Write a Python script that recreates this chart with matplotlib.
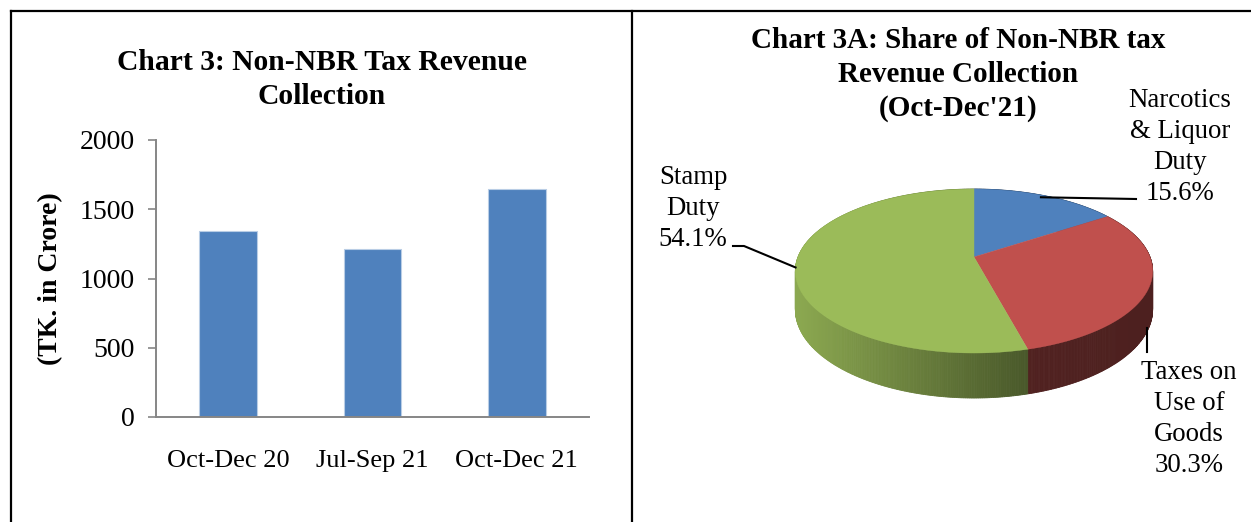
import numpy as np
import matplotlib
matplotlib.use("Agg")
import matplotlib.pyplot as plt
from matplotlib.patches import Polygon
from matplotlib.lines import Line2D

plt.rcParams['font.family'] = ['Liberation Serif', 'DejaVu Serif']

# ---------------- data ----------------
bar_categories = ["Oct-Dec 20", "Jul-Sep 21", "Oct-Dec 21"]
bar_values = [1342, 1210, 1647]
y_ticks = [0, 500, 1000, 1500, 2000]

pie_labels = ["Narcotics\n& Liquor\nDuty", "Taxes on\nUse of\nGoods", "Stamp\nDuty"]
pie_shares = [15.6, 30.3, 54.1]
pie_colors = ["#4F81BD", "#C0504D", "#9BBB59"]

bar_title = ["Chart 3: Non-NBR Tax Revenue", "Collection"]
pie_title = ["Chart 3A: Share of Non-NBR tax", "Revenue Collection", "(Oct-Dec'21)"]

W, H = 1251, 522
fig = plt.figure(figsize=(W / 100, H / 100), dpi=100)

# ---------------- bar chart ----------------
ax_l, ax_r, ax_t, ax_b = 156, 589, 140, 417
ax = fig.add_axes([ax_l / W, 1 - ax_b / H, (ax_r - ax_l) / W, (ax_b - ax_t) / H])
x = np.arange(len(bar_categories))
ax.bar(x, bar_values, width=0.40, color="#4F81BD", edgecolor="#B9CDE5", linewidth=0.8, zorder=2)
ax.set_xlim(-0.5, len(bar_categories) - 0.5)
ax.set_ylim(0, 2000)
ax.set_yticks(y_ticks)
ax.set_yticklabels([str(v) for v in y_ticks], fontsize=20)
ax.set_xticks(x)
ax.set_xticklabels(bar_categories, fontsize=19)
for s in ["top", "right"]:
    ax.spines[s].set_visible(False)
for s in ["left", "bottom"]:
    ax.spines[s].set_color("#868686")
    ax.spines[s].set_linewidth(1.4)
ax.tick_params(axis="y", direction="out", length=5.5, width=1.2, color="#868686", pad=10)
ax.tick_params(axis="x", length=0, pad=24)
ax.set_ylabel("(TK. in Crore)", fontsize=20, fontweight="bold")
ax.yaxis.set_label_coords(-0.214, 0.5)

# ---------------- overlay (pixel coordinates) ----------------
ov = fig.add_axes([0, 0, 1, 1])
ov.set_xlim(0, W)
ov.set_ylim(H, 0)
ov.axis("off")
ov.patch.set_alpha(0)

# borders
lw = 1.6
ov.add_line(Line2D([11, 11], [11, H], color="black", lw=lw))
ov.add_line(Line2D([11, W], [11, 11], color="black", lw=lw))
ov.add_line(Line2D([632, 632], [11, H], color="black", lw=lw))

# titles (one text per line)
for k, line in enumerate(bar_title):
    ov.text(322, 62 + 35 * k, line, ha="center", va="center", fontsize=21.3, fontweight="bold")
for k, line in enumerate(pie_title):
    ov.text(958, 40 + 34 * k, line, ha="center", va="center", fontsize=21, fontweight="bold")

# ---------------- 3D pie ----------------
cx, cy = 974, 257
B, A, p, D = 176, 79.6, 0.171, 37.3


def proj(u, v, z=0.0):
    s = 1.0 / (1.0 + p * v)
    return cx + B * u * s, cy - A * v * s + z * D * s


def rgb(hexc):
    hexc = hexc.lstrip("#")
    return np.array([int(hexc[i:i + 2], 16) for i in (0, 2, 4)]) / 255.0


angles = []
start = 90.0
for sh in pie_shares:
    end = start - 360.0 * sh / 100.0
    angles.append((start, end))
    start = end

# side strips
strips = []
for i, (a0, a1) in enumerate(angles):
    ts = np.radians(np.linspace(a0, a1, int(abs(a1 - a0)) * 2 + 2))
    for t1, t2 in zip(ts[:-1], ts[1:]):
        pts = [proj(np.cos(t1), np.sin(t1), 0), proj(np.cos(t2), np.sin(t2), 0),
               proj(np.cos(t2), np.sin(t2), 1), proj(np.cos(t1), np.sin(t1), 1)]
        vmid = (np.sin(t1) + np.sin(t2)) / 2
        xmid = np.mean([q[0] for q in pts])
        strips.append((vmid, xmid, i, pts))
strips.sort(key=lambda s: -s[0])
green_end_x = proj(np.cos(np.radians(angles[2][0])), np.sin(np.radians(angles[2][0])))[0]
for vmid, xmid, i, pts in strips:
    base = rgb(pie_colors[i])
    if i == 2:
        f = np.interp(xmid, [cx - B, green_end_x], [0.90, 0.47])
    elif i == 1:
        f = np.interp(xmid, [green_end_x, cx + B], [0.42, 0.40])
    else:
        f = 0.45
    c = np.clip(base * f, 0, 1)
    ov.add_patch(Polygon(pts, closed=True, facecolor=c, edgecolor=c, lw=0.6))

# top face
for i, (a0, a1) in enumerate(angles):
    ts = np.radians(np.linspace(a0, a1, 200))
    pts = [proj(0, 0)] + [proj(np.cos(t), np.sin(t)) for t in ts]
    ov.add_patch(Polygon(pts, closed=True, facecolor=pie_colors[i], edgecolor=pie_colors[i], lw=0.3))

# labels and leader lines
mids = [np.radians((a0 + a1) / 2) for a0, a1 in angles]
fs = 19.3
ls = 1.3
# Narcotics
ax0, ay0 = proj(0.92 * np.cos(mids[0]), 0.92 * np.sin(mids[0]))
ov.add_line(Line2D([ax0, 1136], [ay0 - 3, 199], color="black", lw=1.5))
ov.text(1180, 147, pie_labels[0] + "\n" + f"{pie_shares[0]:.1f}%", ha="center", va="center",
        fontsize=fs, linespacing=ls)
# Taxes on use of goods
tx, ty = proj(np.cos(mids[1]), np.sin(mids[1]), 1)
ov.add_line(Line2D([1147, 1147], [ty + 1, 352], color="black", lw=1.5))
ov.text(1189, 419, pie_labels[1] + "\n" + f"{pie_shares[1]:.1f}%", ha="center", va="center",
        fontsize=fs, linespacing=ls)
# Stamp duty
sx, sy = proj(np.cos(mids[2]), np.sin(mids[2]))
ov.add_line(Line2D([733, 744, sx], [246, 246, sy], color="black", lw=1.5))
ov.text(693, 208.5, pie_labels[2] + "\n" + f"{pie_shares[2]:.1f}%", ha="center", va="center",
        fontsize=fs, linespacing=ls)

fig.savefig("out.png", dpi=100)
